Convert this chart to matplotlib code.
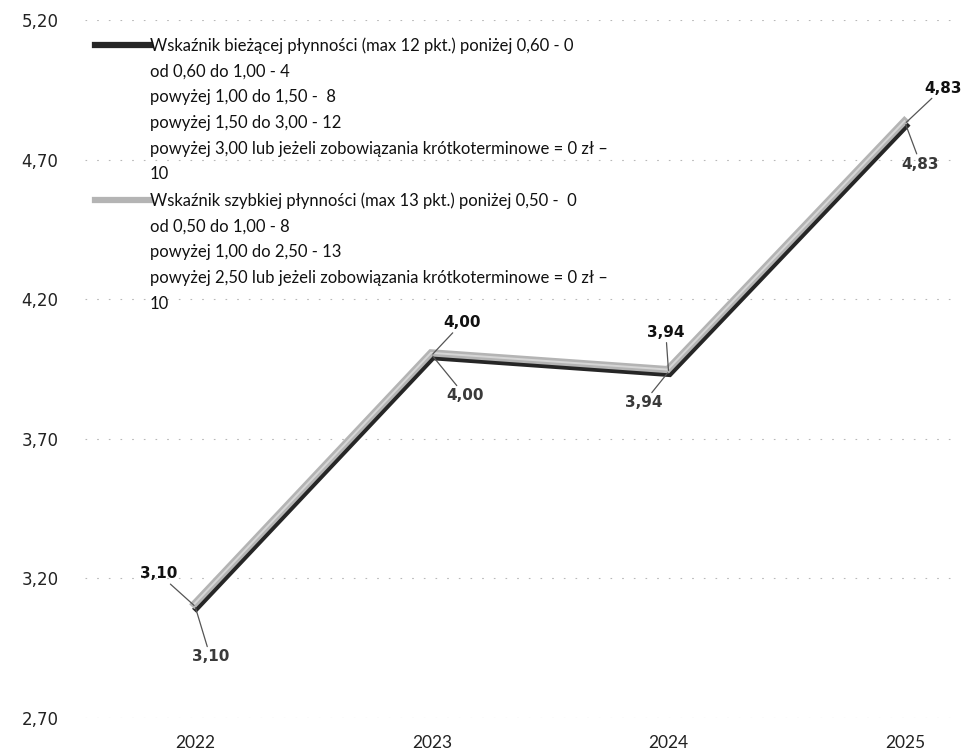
import matplotlib
matplotlib.use("Agg")
import matplotlib.pyplot as plt
import matplotlib.patheffects as pe
from matplotlib.lines import Line2D

years = ["2022", "2023", "2024", "2025"]
biezaca = [3.10, 4.00, 3.94, 4.83]
szybka = [3.10, 4.00, 3.94, 4.83]

y_ticks = [2.70, 3.20, 3.70, 4.20, 4.70, 5.20]

name_biezaca = [
    "Wskaźnik bieżącej płynności (max 12 pkt.) poniżej 0,60 - 0",
    "od 0,60 do 1,00 - 4",
    "powyżej 1,00 do 1,50 -  8",
    "powyżej 1,50 do 3,00 - 12",
    "powyżej 3,00 lub jeżeli zobowiązania krótkoterminowe = 0 zł –",
    "10",
]
name_szybka = [
    "Wskaźnik szybkiej płynności (max 13 pkt.) poniżej 0,50 -  0",
    "od 0,50 do 1,00 - 8",
    "powyżej 1,00 do 2,50 - 13",
    "powyżej 2,50 lub jeżeli zobowiązania krótkoterminowe = 0 zł –",
    "10",
]

fig = plt.figure(figsize=(9.66, 7.52), dpi=100)
ax = fig.add_axes([0.088, 0.0452, 0.906, 0.9282])

x = list(range(len(years)))

dark_fx = [pe.Stroke(offset=(0.8, -1.7), linewidth=4.2, foreground="#262626")]
light_fx = [pe.Stroke(offset=(-0.6, 1.6), linewidth=5.2, foreground="#b4b4b4"),
            pe.Stroke(offset=(-0.6, 1.6), linewidth=1.4, foreground="#d6d6d6")]

l1, = ax.plot(x, biezaca, color="#262626", lw=4.2, solid_joinstyle="miter",
              path_effects=dark_fx, zorder=3)
l2, = ax.plot(x, szybka, color="#b4b4b4", lw=5.2, solid_joinstyle="miter",
              path_effects=light_fx, zorder=4)

ax.set_xlim(-0.465, 3.232)
ax.set_ylim(2.70, 5.20)
ax.set_yticks(y_ticks)
ax.set_yticklabels([f"{v:.2f}".replace(".", ",") for v in y_ticks],
                   fontsize=12, color="#222222", family="DejaVu Sans")
ax.set_xticks(x)
ax.set_xticklabels(years, fontsize=12.5, color="#222222", family="Lato")
ax.tick_params(axis="y", length=0, pad=19)
ax.tick_params(axis="x", length=0, pad=12)
for s in ax.spines.values():
    s.set_visible(False)
ax.grid(axis="y", color="#b8b8b8", linestyle=(0, (1.5, 9)), linewidth=0.8)
ax.set_axisbelow(True)

# value labels: first series above the line, second below
lead = dict(arrowstyle="-", color="#555555", lw=0.9, shrinkA=0, shrinkB=1)
above = [(-26, 18), (22, 18), (-2, 23), (27, 20)]
below = [(11, -31), (24, -24), (-18, -17), (11, -24)]
for i, v in enumerate(biezaca):
    ax.annotate(f"{v:.2f}".replace(".", ","), (x[i], v), xytext=above[i],
                textcoords="offset points", ha="center", va="bottom",
                fontsize=11, fontweight="bold", color="#111111",
                family="DejaVu Sans", arrowprops=lead, zorder=6)
for i, v in enumerate(szybka):
    ax.annotate(f"{v:.2f}".replace(".", ","), (x[i], v), xytext=below[i],
                textcoords="offset points", ha="center", va="top",
                fontsize=11, fontweight="bold", color="#3a3a3a",
                family="DejaVu Sans", arrowprops=lead, zorder=6)

# legend: each series name spread over several rows
blank = Line2D([], [], color="none")
h1 = Line2D([], [], color="#262626", lw=4.5)
h2 = Line2D([], [], color="#b4b4b4", lw=4.5)
handles = [h1] + [blank] * (len(name_biezaca) - 1) + [h2] + [blank] * (len(name_szybka) - 1)
labels = name_biezaca + name_szybka
ax.legend(handles, labels, loc="upper left", bbox_to_anchor=(0.0, 0.99),
          frameon=False, prop={"family": "Lato", "size": 12},
          handlelength=3.3, handletextpad=0.0, labelspacing=0.585,
          borderaxespad=0.2, labelcolor="#111111")

fig.savefig("out.png", dpi=100, facecolor="white")
